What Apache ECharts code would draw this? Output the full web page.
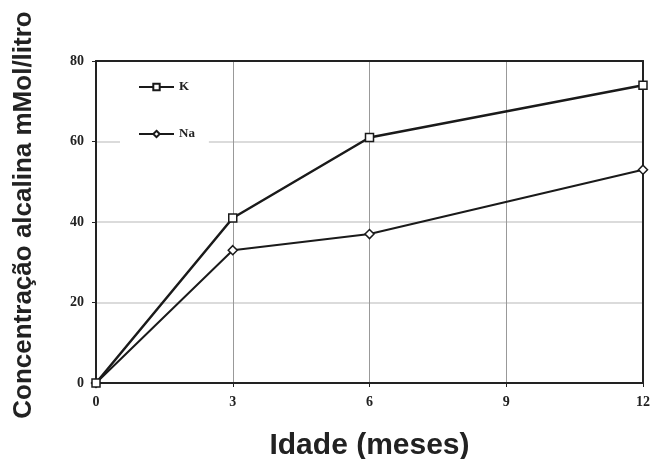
<!DOCTYPE html>
<html>
<head>
<meta charset="utf-8">
<script src="https://cdn.jsdelivr.net/npm/echarts@6/dist/echarts.min.js"></script>
<style>
  html, body { margin: 0; padding: 0; background: #fff; }
  #chart { width: 652px; height: 459px; }
</style>
</head>
<body>
<div id="chart"></div>
<script>
// dados
var idades = [0, 3, 6, 12];          // meses
var valoresK = [0, 41, 61, 74];
var valoresNa = [0, 33, 37, 53];
var ticksX = [0, 3, 6, 9, 12];
var ticksY = [0, 20, 40, 60, 80];

var corLinha = '#1a1a1a';
var fonteSerif = '"Liberation Serif", "DejaVu Serif", serif';
var fonteTitulo = '"Liberation Sans", Arial, sans-serif';

function pares(xs, ys) {
	var out = [];
	for (var i = 0; i < xs.length; i++) {
		out.push([xs[i], ys[i]]);
	}
	return out;
}

var rotulo = {
	margin: 12,
	fontFamily: fonteSerif,
	fontSize: 14,
	fontWeight: 'bold',
	color: '#222'
};

var myChart = echarts.init(document.getElementById('chart'));

var option = {
	animation: false,
	backgroundColor: '#fff',
	grid: {
		left: 96,
		right: 9,
		top: 61,
		bottom: 76,
		outerBoundsMode: 'none'
	},
	graphic: [{
		type: 'text',
		x: 24,
		y: 215,
		rotation: Math.PI / 2,
		style: {
			text: 'Concentração alcalina mMol/litro',
			fontFamily: fonteTitulo,
			fontSize: 26,
			fontWeight: 'bold',
			fill: '#222',
			textAlign: 'center',
			textVerticalAlign: 'middle'
		}
	}],
	legend: {
		orient: 'vertical',
		left: 120,
		top: 72,
		padding: [8, 14, 8, 18],
		backgroundColor: '#fff',
		itemWidth: 35,
		itemHeight: 8,
		itemGap: 33,
		textStyle: {
			fontFamily: fonteSerif,
			fontSize: 13,
			fontWeight: 'bold',
			color: '#222',
			lineHeight: 14
		},
		data: ['K', 'Na']
	},
	xAxis: [{
		type: 'value',
		min: ticksX[0],
		max: ticksX[ticksX.length - 1],
		interval: 3,
		name: 'Idade (meses)',
		nameLocation: 'middle',
		nameGap: 48,
		nameTextStyle: {
			fontFamily: fonteTitulo,
			fontSize: 30,
			fontWeight: 'bold',
			color: '#222'
		},
		axisLine: { show: true, onZero: false, lineStyle: { color: '#222', width: 2 } },
		axisTick: { show: true, length: 4, lineStyle: { color: '#222' } },
		axisLabel: rotulo,
		splitLine: { show: true, lineStyle: { color: '#999', width: 1 } }
	}, {
		// borda superior
		type: 'value',
		position: 'top',
		min: ticksX[0],
		max: ticksX[ticksX.length - 1],
		interval: 3,
		axisLine: { show: true, onZero: false, lineStyle: { color: '#222', width: 2 } },
		axisTick: { show: false },
		axisLabel: { show: false },
		splitLine: { show: false }
	}],
	yAxis: [{
		type: 'value',
		min: ticksY[0],
		max: ticksY[ticksY.length - 1],
		interval: 20,
		axisLine: { show: true, onZero: false, lineStyle: { color: '#222', width: 2 } },
		axisTick: { show: true, length: 4, lineStyle: { color: '#222' } },
		axisLabel: rotulo,
		splitLine: { show: true, lineStyle: { color: '#cfcfcf', width: 1.5 } }
	}, {
		// borda direita
		type: 'value',
		position: 'right',
		min: ticksY[0],
		max: ticksY[ticksY.length - 1],
		interval: 20,
		axisLine: { show: true, onZero: false, lineStyle: { color: '#222', width: 2 } },
		axisTick: { show: false },
		axisLabel: { show: false },
		splitLine: { show: false }
	}],
	series: [{
		name: 'K',
		type: 'line',
		data: pares(idades, valoresK),
		symbol: 'rect',
		symbolSize: 8,
		lineStyle: { color: corLinha, width: 2.5 },
		itemStyle: { color: '#fff', borderColor: corLinha, borderWidth: 1.5 },
		z: 3
	}, {
		name: 'Na',
		type: 'line',
		data: pares(idades, valoresNa),
		symbol: 'diamond',
		symbolSize: 9,
		lineStyle: { color: corLinha, width: 2 },
		itemStyle: { color: '#fff', borderColor: corLinha, borderWidth: 1.5 },
		z: 2
	}]
};

myChart.setOption(option);
</script>
</body>
</html>
